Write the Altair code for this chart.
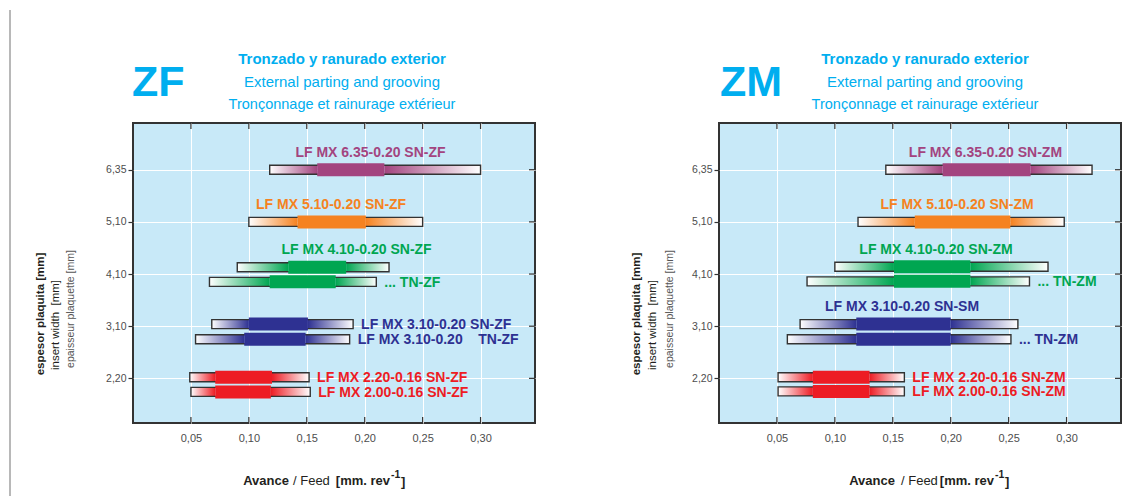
import altair as alt
import pandas as pd

FONT = "Liberation Sans"
BLUE_T = "#00aeef"
NB = "\u00a0"

thickness_labels = ["2,20", "3,10", "4,10", "5,10", "6,35"]
thickness_rows = [0, 1, 2, 3, 4]
feed_ticks = [0.05, 0.10, 0.15, 0.20, 0.25, 0.30]

group_colors = {"6.35": "#a3447f", "5.10": "#f58220", "4.10": "#00a651",
                "3.10": "#2e3192", "2.20": "#ed1c24"}

# ---------------- ZF ----------------
zf_names = ["LF MX 6.35-0.20 SN-ZF", "LF MX 5.10-0.20 SN-ZF", "LF MX 4.10-0.20 SN-ZF",
            "... TN-ZF", "LF MX 3.10-0.20 SN-ZF", "LF MX 3.10-0.20" + NB * 4 + "TN-ZF",
            "LF MX 2.20-0.16 SN-ZF", "LF MX 2.00-0.16 SN-ZF"]
zf_group = ["6.35", "5.10", "4.10", "4.10", "3.10", "3.10", "2.20", "2.20"]
zf_row = [4, 3, 2.13, 1.85, 1.04, 0.75, 0.02, -0.26]
zf_min = [0.118, 0.100, 0.090, 0.066, 0.068, 0.054, 0.049, 0.050]
zf_max = [0.300, 0.250, 0.221, 0.210, 0.190, 0.187, 0.152, 0.153]
zf_rec_min = [0.159, 0.142, 0.134, 0.118, 0.100, 0.096, 0.071, 0.071]
zf_rec_max = [0.217, 0.201, 0.184, 0.175, 0.151, 0.149, 0.120, 0.119]
zf_side = ["above", "above", "above", "right", "right", "right", "right", "right"]
zf_label_x = [0.205, 0.171, 0.193, 0, 0, 0, 0, 0]

# ---------------- ZM ----------------
zm_names = ["LF MX 6.35-0.20 SN-ZM", "LF MX 5.10-0.20 SN-ZM", "LF MX 4.10-0.20 SN-ZM",
            "... TN-ZM", "LF MX 3.10-0.20 SN-SM", "... TN-ZM",
            "LF MX 2.20-0.16 SN-ZM", "LF MX 2.00-0.16 SN-ZM"]
zm_group = ["6.35", "5.10", "4.10", "4.10", "3.10", "3.10", "2.20", "2.20"]
zm_row = [4, 3, 2.14, 1.86, 1.04, 0.75, 0.02, -0.25]
zm_min = [0.144, 0.120, 0.100, 0.076, 0.070, 0.059, 0.051, 0.051]
zm_max = [0.322, 0.298, 0.284, 0.268, 0.258, 0.252, 0.160, 0.160]
zm_rec_min = [0.193, 0.169, 0.151, 0.151, 0.1185, 0.1185, 0.081, 0.081]
zm_rec_max = [0.269, 0.2515, 0.217, 0.217, 0.200, 0.200, 0.130, 0.130]
zm_side = ["above", "above", "above", "right", "above", "right", "right", "right"]
zm_label_x = [0.230, 0.2055, 0.1873, 0, 0.158, 0, 0, 0]

title_lines = ["Tronzado y ranurado exterior", "External parting and grooving",
               "Tronçonnage et rainurage extérieur"]
ytitle_lines = ["espesor plaquita [mm]", "insert width" + NB * 2 + "[mm]",
                "epaisseur plaquette [mm]"]

W, H = 402, 300
xscale = alt.Scale(domain=[0, 0.347], nice=False, zero=False)
yscale = alt.Scale(domain=[-0.76, 4.8], nice=False, zero=False)
xaxis = alt.Axis(values=feed_ticks, title=None, grid=True, gridColor="white", gridWidth=1,
                 ticks=False, domain=False, labelFont=FONT, labelFontSize=11,
                 labelColor="#4d4d4d", labelPadding=9,
                 labelExpr="replace(format(datum.value, '.2f'), '.', ',')")
ylabel_expr = "[" + ",".join("'%s'" % s for s in thickness_labels) + "][datum.value]"
yaxis = alt.Axis(values=thickness_rows, title=None, grid=True, gridColor="white", gridWidth=1,
                 ticks=True, tickSize=5, tickColor="#333", tickWidth=1.2, domain=False,
                 labelFont=FONT, labelFontSize=10.5, labelColor="#4d4d4d", labelPadding=2,
                 labelExpr=ylabel_expr)


def X(f):
    return alt.X(f, type="quantitative", scale=xscale, axis=xaxis)


def Y(f):
    return alt.Y(f, type="quantitative", scale=yscale, axis=yaxis)


def grad(c1, c2):
    return alt.LinearGradient(gradient="linear",
                              stops=[alt.GradientStop(color=c1, offset=0),
                                     alt.GradientStop(color=c2, offset=1)],
                              x1=0, x2=1, y1=0, y2=0)


def txt(text, x, y, **kw):
    one = pd.DataFrame({"k": [0]})
    return alt.Chart(one).mark_text(text=text, **kw).encode(x=alt.value(x), y=alt.value(y))


def panel(names, groups, rows, mins, maxs, rmins, rmaxs, sides, lxs, big, cfg):
    df = pd.DataFrame({"name": names, "grp": groups, "row": rows, "lo": mins,
                       "hi": maxs, "rlo": rmins, "rhi": rmaxs, "side": sides, "lx": lxs})
    df["col"] = [group_colors[g] for g in groups]
    base = alt.Chart(df)
    layers = []
    # gradient segments of the full range
    for g, c in group_colors.items():
        sub = base.transform_filter(alt.datum.grp == g)
        layers.append(sub.mark_bar(size=9, fill=grad("#ffffff", c), strokeWidth=0)
                      .encode(x=X("lo"), x2="rlo", y=Y("row")))
        layers.append(sub.mark_bar(size=9, fill=grad(c, "#ffffff"), strokeWidth=0)
                      .encode(x=X("rhi"), x2="hi", y=Y("row")))
    # outline of full range
    layers.append(base.mark_bar(size=9, fillOpacity=0, stroke="#333333", strokeWidth=1.4)
                  .encode(x=X("lo"), x2="hi", y=Y("row")))
    # recommended range
    layers.append(base.mark_bar(size=13, strokeWidth=0)
                  .encode(x=X("rlo"), x2="rhi", y=Y("row"),
                          color=alt.Color("col:N", scale=None, legend=None)))
    # labels
    layers.append(base.transform_filter(alt.datum.side == "above")
                  .mark_text(font=FONT, fontSize=14, fontWeight="bold", align="center",
                             baseline="middle", dy=-17)
                  .encode(x=X("lx"), y=Y("row"), text="name:N",
                          color=alt.Color("col:N", scale=None, legend=None)))
    layers.append(base.transform_filter(alt.datum.side == "right")
                  .mark_text(font=FONT, fontSize=14, fontWeight="bold", align="left",
                             baseline="middle", dx=8, dy=1)
                  .encode(x=X("hi"), y=Y("row"), text="name:N",
                          color=alt.Color("col:N", scale=None, legend=None)))
    # inward ticks on top, bottom and right
    tdf = pd.DataFrame({"v": feed_ticks})
    layers.append(alt.Chart(tdf).mark_rule(color="#333", strokeWidth=1.2)
                  .encode(x=X("v"), y=alt.value(0), y2=alt.value(6)))
    layers.append(alt.Chart(tdf).mark_rule(color="#333", strokeWidth=1.2)
                  .encode(x=X("v"), y=alt.value(H - 6), y2=alt.value(H)))
    rdf = pd.DataFrame({"r": thickness_rows})
    layers.append(alt.Chart(rdf).mark_rule(color="#333", strokeWidth=1.2)
                  .encode(y=Y("r"), x=alt.value(W - 6), x2=alt.value(W)))
    # big code
    layers.append(txt(big, cfg["big_x"], -27, font=FONT, fontSize=43, fontWeight="bold",
                      color=BLUE_T, align="left", baseline="alphabetic"))
    # titles
    for t, yy, sz, wt in zip(title_lines, [-59.5, -36, -14.5], [15, 15, 14.5],
                             ["bold", "normal", "normal"]):
        layers.append(txt(t, cfg["title_cx"], yy, font=FONT, fontSize=sz, fontWeight=wt,
                          color=BLUE_T, align="center", baseline="alphabetic"))
    # y title (three languages)
    for t, xx, yy, sz, wt, c in zip(ytitle_lines, cfg["yt_x"], [191, 202, 186],
                                    [11.5, 11.5, 10.5], ["bold", "normal", "normal"],
                                    ["#231f20", "#231f20", "#555555"]):
        layers.append(txt(t, xx, yy, font=FONT, fontSize=sz, fontWeight=wt, color=c,
                          align="center", baseline="middle", angle=270))
    # x title
    xe = cfg["xt_end"]
    layers.append(txt("Avance", cfg["xt_a"], 362, font=FONT, fontSize=13, fontWeight="bold",
                      color="#231f20", align="right", baseline="alphabetic"))
    layers.append(txt("/ Feed", cfg["xt_b"], 362, font=FONT, fontSize=13,
                      color="#231f20", align="left", baseline="alphabetic"))
    layers.append(txt("[mm. rev", xe, 362, font=FONT, fontSize=13, fontWeight="bold",
                      color="#231f20", align="right", baseline="alphabetic"))
    layers.append(txt("-1", xe + 1, 355, font=FONT, fontSize=10.5, fontWeight="bold",
                      color="#231f20", align="left", baseline="alphabetic"))
    layers.append(txt("]", xe + 11, 363, font=FONT, fontSize=13, fontWeight="bold",
                      color="#231f20", align="left", baseline="alphabetic"))
    if cfg.get("frame_line"):
        one = pd.DataFrame({"k": [0]})
        layers.append(alt.Chart(one).mark_rule(color="#a0a0a0", strokeWidth=1.5)
                      .encode(x=alt.value(-123), y=alt.value(-113), y2=alt.value(373)))
    return alt.layer(*layers).properties(width=W, height=H)


left = panel(zf_names, zf_group, zf_row, zf_min, zf_max, zf_rec_min, zf_rec_max, zf_side,
             zf_label_x, "ZF",
             dict(big_x=-1, title_cx=209, yt_x=[-92, -77, -62], xt_a=156, xt_b=160,
                  xt_end=257, frame_line=True))
right = panel(zm_names, zm_group, zm_row, zm_min, zm_max, zm_rec_min, zm_rec_max, zm_side,
              zm_label_x, "ZM",
              dict(big_x=1, title_cx=206, yt_x=[-82, -66, -49], xt_a=176, xt_b=182,
                   xt_end=275))

chart = (alt.hconcat(left, right, spacing=184, bounds="flush", padding=0)
         .configure_view(fill="#c8e9f8", stroke="#333333", strokeWidth=2))

chart.save("out.html", embed_options={"renderer": "svg", "actions": False})
